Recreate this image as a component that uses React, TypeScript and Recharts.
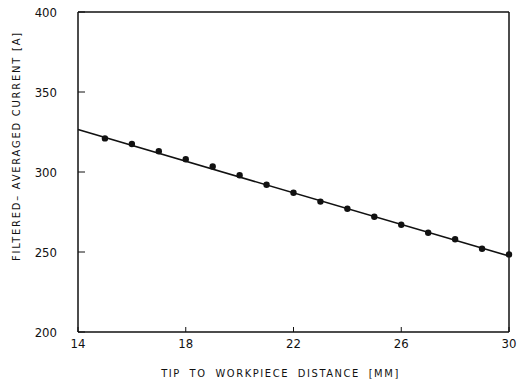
import { ComposedChart, Line, Scatter, XAxis, YAxis, Label, ReferenceLine } from 'recharts';

// tip-to-workpiece distance [mm] and measured filtered-averaged current [A]
const distance = [15, 16, 17, 18, 19, 20, 21, 22, 23, 24, 25, 26, 27, 28, 29, 30];
const current = [321, 317.5, 313, 308, 303.5, 298, 292, 287, 281.5, 277, 272, 267, 262, 258, 252, 248.5];

// least-squares fit line end points
const fitX = [14, 30];
const fitY = [326.5, 247.5];

const xTicks = [14, 18, 22, 26, 30];
const yTicks = [200, 250, 300, 350, 400];

const measured = distance.map((d, i) => ({ x: d, y: current[i] }));
const fit = fitX.map((d, i) => ({ x: d, y: fitY[i] }));

const font = "'Liberation Sans Narrow', 'DejaVu Sans Condensed', sans-serif";

const YLabel = (props: any) => {
  const vb = props.viewBox;
  const cx = vb.x + 16;
  const cy = vb.y + vb.height / 2 - 26;
  return (
    <text
      x={cx}
      y={cy}
      transform={`rotate(-90 ${cx} ${cy})`}
      textAnchor="middle"
      dominantBaseline="central"
      fontFamily={font}
      fontSize={11}
      letterSpacing={1.8}
      fill="#111"
    >
      FILTERED– AVERAGED CURRENT [A]
    </text>
  );
};

export default function App() {
  return (
    <div style={{ position: 'absolute', left: 0, top: 0, background: '#fff' }}>
      <ComposedChart width={517} height={390} margin={{ top: 12, right: 8, bottom: 13, left: 0 }}>
        <XAxis
          type="number"
          dataKey="x"
          domain={[14, 30]}
          ticks={xTicks}
          height={45}
          tickSize={-5}
          tickMargin={12}
          tick={{ fill: '#111', fontSize: 13, fontFamily: font }}
          tickLine={{ stroke: '#111' }}
          axisLine={{ stroke: '#111', strokeWidth: 1.5 }}
        >
          <Label
            value="TIP  TO  WORKPIECE  DISTANCE  [MM]"
            position="insideBottom"
            offset={0}
            style={{ fill: '#111', fontSize: 11, fontFamily: font, letterSpacing: 1.6, wordSpacing: 4, whiteSpace: 'pre' }}
            dx={-13}
          />
        </XAxis>
        <YAxis
          type="number"
          dataKey="y"
          domain={[200, 400]}
          ticks={yTicks}
          width={78}
          tickSize={-7}
          tickMargin={28}
          tick={{ fill: '#111', fontSize: 13, fontFamily: font }}
          tickLine={{ stroke: '#111' }}
          axisLine={{ stroke: '#111', strokeWidth: 1.5 }}
          label={<YLabel />}
        />
        <ReferenceLine y={400} stroke="#111" strokeWidth={1.5} />
        <ReferenceLine x={30} stroke="#111" strokeWidth={1.5} />
        <Line
          data={fit}
          dataKey="y"
          type="linear"
          stroke="#111"
          strokeWidth={1.6}
          dot={false}
          activeDot={false}
          isAnimationActive={false}
        />
        <Scatter
          data={measured}
          dataKey="y"
          fill="#111"
          shape={(p: any) => <circle cx={p.cx} cy={p.cy} r={3.2} fill="#111" />}
          isAnimationActive={false}
        />
      </ComposedChart>
    </div>
  );
}
